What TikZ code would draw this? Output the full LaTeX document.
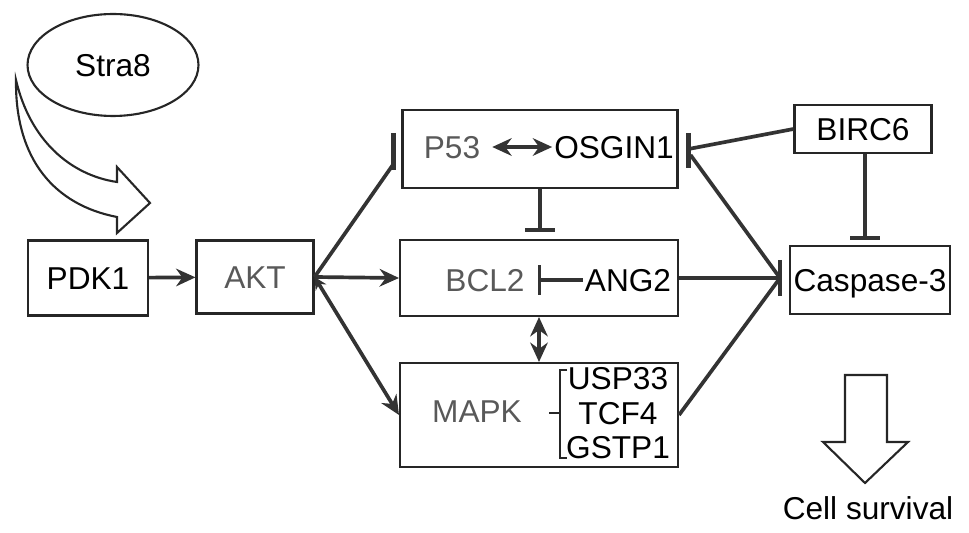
\documentclass[tikz,border=0pt]{standalone}
\usepackage{fontspec}
\setmainfont{Liberation Sans}
\usetikzlibrary{arrows.meta,positioning,shapes.geometric,calc}

\begin{document}
\begin{tikzpicture}[x=0.02cm, y=-0.02cm,
    bx/.style={draw=black!85, line width=1.2pt, inner sep=0pt, text height=13pt, text depth=0pt, font=\fontsize{18}{22}\selectfont},
    tx/.style={inner sep=1pt, text height=13pt, text depth=0pt, font=\fontsize{18}{22}\selectfont},
    gr/.style={execute at begin node=\color{black!65}},
    ln/.style={line width=2.1pt, black!80},
    ed/.style={-{Stealth[length=11pt,width=10pt]}, ln},
    ed2/.style={{Stealth[length=11pt,width=10pt]}-{Stealth[length=11pt,width=10pt]}, ln},
    inh/.style={-{Bar[width=17pt]}, ln},
  ]
  \useasboundingbox (0,0) rectangle (969,533);

  % boxes
  \node[bx, ellipse, minimum width=3.42cm, minimum height=2.04cm] (stra) at (113,65) {Stra8};
  \node[bx, minimum width=2.4cm, minimum height=1.5cm] (pdk) at (88,278) {PDK1};
  \node[bx, gr, minimum width=2.34cm, minimum height=1.46cm] (akt) at (255,277) {AKT};
  \node[bx, minimum width=5.5cm, minimum height=1.56cm] (p53box) at (540,149) {};
  \node[bx, minimum width=5.56cm, minimum height=1.52cm] (bclbox) at (539,278) {};
  \node[bx, minimum width=5.56cm, minimum height=2.08cm] (mapkbox) at (539,415) {};
  \node[bx, minimum width=2.74cm, minimum height=0.96cm] (birc) at (863,129) {BIRC6};
  \node[bx, minimum width=3.2cm, minimum height=1.36cm] (casp) at (870,280) {Caspase-3};

  % texts inside the boxes
  \node[tx, gr] (p53) at (452,147) {P53};
  \node[tx] (osg) at (614,147) {OSGIN1};
  \node[tx, gr] (bcl) at (485,280) {BCL2};
  \node[tx] (ang) at (628,280) {ANG2};
  \node[tx, gr] (mapk) at (477,411) {MAPK};
  \node[tx] (usp) at (618,378) {USP33};
  \node[tx] (tcf) at (618,413) {TCF4};
  \node[tx] (gst) at (618,447) {GSTP1};
  \node[tx] (surv) at (868,508) {Cell survival};

  % bar ends
  \coordinate (p53in) at ($(p53box.west)+(-8,15)$);
  \coordinate (osgin) at ($(p53box.east)+(10,0)$);
  \coordinate (caspin) at ($(casp.west)+(-9,-2)$);
  \coordinate (bircdn) at ($(birc.south)+(2,0)$);
  \draw[ln, line width=2.4pt] ($(p53box.west)+(-8,-16)$) -- +(0,37);
  \draw[ln, line width=2.4pt] ($(p53box.east)+(10,-16)$) -- +(0,35);
  \draw[ln, line width=2.4pt] ($(casp.west)+(-9,-20)$) -- +(0,36);

  % Stra8 arrow
  \draw[line width=1.2pt, black!85, fill=white] (16,80) .. controls (30,140) and (70,175) .. (117,182)
    -- (117,167) -- (150,203) -- (117,233) -- (117,217) .. controls (55,205) and (15,160) .. cycle;

  % connectors
  \draw[ed] (pdk) -- (akt);
  \draw[ed] (akt.east) -- (bclbox.west);
  \draw[{Stealth[length=7pt,width=7pt]}-{Stealth[length=11pt,width=10pt]}, ln] (akt.east) -- (mapkbox.west);
  \draw[ln] (akt.east) -- (p53in);
  \draw[ed2, shorten <=0.2cm] (p53) -- (osg);
  \draw[inh, shorten >=0.14cm] (p53box.south) -- (p53box.south |- bclbox.north);
  \draw[inh, shorten >=0.22cm] (ang.west) -- (bcl.east);
  \draw[ed2] (bclbox.south) -- (mapkbox.north);
  \draw[ln] (birc.west) -- (osgin);
  \draw[ln] ($(osgin)+(2,6)$) -- (caspin);
  \draw[ln] (bclbox.east) -- (caspin);
  \draw[ln] (mapkbox.east) -- (caspin);
  \draw[inh, shorten >=0.1cm] (bircdn) -- (bircdn |- casp.north);

  % bracket
  \draw[line width=1.6pt, black!85] (567,370) -- (560,370) -- (560,458) -- (567,458);
  \draw[line width=1.6pt, black!85] (560,413) -- (549,413);

  % Cell survival arrow
  \draw[line width=1.2pt, black!85] (845,375) -- (887,375) -- (887,442) -- (908,442)
    -- (865,483) -- (823,442) -- (845,442) -- cycle;
\end{tikzpicture}
\end{document}
